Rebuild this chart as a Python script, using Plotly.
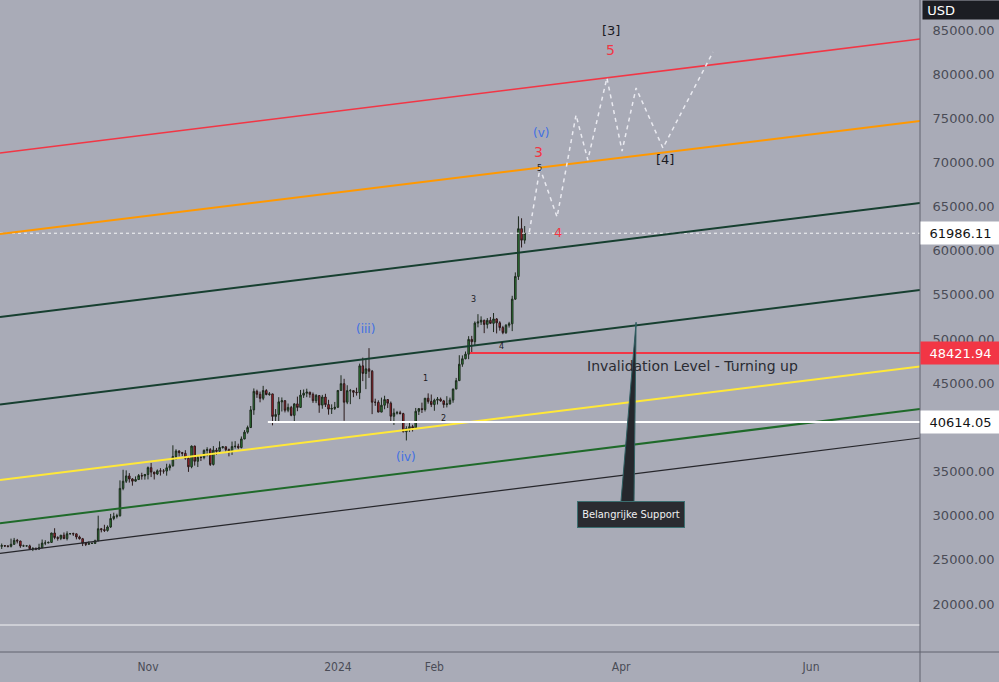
import pandas as pd
import plotly.graph_objects as go

# ---------------- data ----------------
first_date = "2023-09-14"
first_open = 26230
closes = [
    26530, 26610, 26570, 26530, 26760, 27210, 27130, 26570, 26580, 26580, 26260, 26300, 26220, 26370, 26900, 26910, 26970,
    28040, 27530, 27430, 27790, 27410, 27950, 27970, 27940, 27590, 27390, 26870, 26760, 26860, 26860, 27160, 28520, 28420,
    28330, 28720, 29680, 29920, 29990, 33090, 33900, 34500, 34160, 33910, 34090, 34540, 34500, 34670,
    35440, 34940, 34730, 35080, 35050, 35050, 35420, 35650, 36700, 37320, 37140, 37060, 36500, 35540, 37880, 36160, 36600,
    36590, 37390, 37480, 35800, 37420, 37290, 37720, 37800, 37480, 37250, 37830, 37860, 37720,
    38690, 39460, 39980, 41980, 44080, 43750, 43290, 44170, 43720, 43790, 41240, 41450, 42890, 43020, 41940, 42260, 41360,
    42660, 42260, 43650, 43870, 43990, 43740, 43020, 43610, 42520, 43440, 42580, 42070, 42140, 42280,
    44180, 44950, 42850, 44160, 44160, 43970, 43930, 46970, 46110, 46630, 46360, 42850, 42840, 41730, 42510, 43150, 42740,
    41260, 41620, 41660, 41560, 39510, 39850, 40080, 39930, 41820, 42120, 42030, 43300, 42940, 42580,
    43080, 43190, 43000, 42580, 42660, 43090, 44340, 45290, 47150, 47770, 48290, 49960, 49700, 51810, 51940, 52130, 51660,
    52120, 51780, 52280, 51840, 51300, 50730, 51570, 51730, 54520, 57090, 62500, 61200,
    61986.11,
]
highs = [
    26770, 26850, 26680, 26620, 27400, 27480, 27370, 27150, 26720, 26640, 26720, 26420, 26390, 26820, 27300, 27220, 27080,
    28060, 28580, 27670, 27820, 28100, 28230, 28020, 28080, 27990, 27740, 27480, 26940, 27100, 26970, 27290, 30000, 28610,
    28970, 28900, 30200, 30340, 30220, 34000, 35200, 35130, 34820, 34250, 34450, 34720, 34860, 34720,
    35570, 35980, 34940, 35240, 35380, 35270, 35880, 35880, 37970, 37520, 37410, 37220, 37420, 36760, 37950, 37930, 36840,
    36840, 37500, 37750, 37650, 37880, 37670, 38420, 37880, 37830, 37600, 38390, 38440, 38150,
    38970, 39690, 40200, 42420, 44410, 44270, 44050, 44700, 44330, 44000, 43810, 42070, 43420, 43390, 43090, 42700, 42430,
    42740, 43480, 44240, 44290, 44380, 44010, 43950, 43780, 43610, 43680, 43800, 43120, 42610, 42880,
    44190, 45900, 45500, 44770, 44350, 44230, 44490, 47220, 47900, 47700, 48970, 46500, 43250, 43070, 43370, 43580, 43200,
    42930, 42140, 41870, 41880, 41650, 40130, 40540, 40290, 42200, 42190, 42800, 43320, 43850, 43720,
    43250, 43440, 43380, 43110, 43530, 43370, 44390, 45600, 48170, 48150, 48590, 50330, 50360, 52000, 52820, 52570, 52190,
    52380, 52490, 52950, 52380, 52020, 51500, 51690, 51950, 54900, 57550, 63900, 63680,
    62800,
]
lows = [
    26150, 26230, 26450, 26400, 26400, 26680, 26860, 26360, 26490, 26520, 26140, 25990, 26090, 26120, 26340, 26660, 26880,
    26950, 27330, 27170, 27230, 27340, 27200, 27860, 27710, 27320, 27300, 26560, 26560, 26690, 26810, 26820, 27120, 28110,
    28150, 28190, 28620, 29490, 29690, 29900, 32880, 33700, 33750, 33400, 33860, 34050, 34080, 34080,
    34110, 34370, 34100, 34600, 34540, 34760, 34530, 35110, 35540, 36350, 36710, 36750, 36340, 34960, 35370, 35670, 35510,
    36190, 36380, 36720, 35630, 35680, 36890, 37260, 37590, 37160, 36720, 36880, 37600, 37520,
    37620, 38650, 39280, 39970, 41420, 43340, 42840, 43080, 43630, 43580, 40230, 40650, 40680, 41800, 41690, 41710, 41260,
    40530, 41830, 42210, 43340, 43420, 43360, 42770, 42750, 41650, 42110, 42310, 41440, 41520, 41970,
    42190, 44180, 40750, 42630, 42630, 43420, 43600, 43200, 45240, 44330, 45600, 41500, 42440, 41720, 41720, 42050, 42190,
    40680, 40280, 41450, 41480, 39430, 38520, 39490, 39530, 39820, 41400, 41630, 41800, 42690, 42300,
    41880, 42590, 42900, 42220, 42260, 42580, 42790, 44330, 45250, 46860, 47710, 47720, 48380, 49280, 51330, 51600, 50670,
    51200, 51700, 50790, 50640, 50950, 50550, 50580, 51300, 50900, 54450, 56700, 60370,
    60800,
]

# drawn channel lines: price at left edge / right edge of the view
channel_names = ["red", "orange", "dkgreen1", "dkgreen2", "yellow", "green", "black"]
channel_start = [71072, 61899, 52500, 42591, 34042, 29139, 25741]
channel_end = [83981, 74695, 65409, 55558, 46895, 42082, 38798]

# horizontal levels
last_price = 61986.11
invalidation_level = 48421.94
invalidation_start = "2024-02-12 10:00"
support_level = 40614.05
support_start = "2023-12-09 12:00"
low_line_level = 17620

# projected wave path (white dashed)
projection_dates = ["2024-03-02 12:00", "2024-03-05 22:00", "2024-03-11 10:00", "2024-03-17 12:00",
                    "2024-03-21 07:00", "2024-03-27 10:00", "2024-04-01 07:00", "2024-04-05 19:00",
                    "2024-04-14 10:00", "2024-04-30 12:00"]
projection_prices = [62125, 69373, 63824, 75375, 70279, 79564, 71298, 78432, 71638, 82509]

# 40000 is hidden behind the 40614.05 price tag in the reference
y_ticks = [20000, 25000, 30000, 35000, 45000, 50000, 55000, 60000, 65000, 70000, 75000, 80000, 85000]
x_tick_dates = ["2023-11-01", "2024-01-01", "2024-02-01", "2024-04-01", "2024-06-01"]
x_tick_text = ["Nov", "2024", "Feb", "Apr", "Jun"]

x_view = ["2023-09-14 11:00", "2024-07-06 00:00"]
y_view = [14563, 88397]

# ---------------- figure ----------------
dates = pd.date_range(first_date, periods=len(closes), freq="D")
opens = [first_open] + closes[:-1]

BG = "#a9abb7"
RED = "#f23645"
BLUE = "#3f6fe3"

channel_colors = {"red": RED, "orange": "#ff9800", "dkgreen1": "#173f30", "dkgreen2": "#173f30",
                  "yellow": "#ffe838", "green": "#1f6a2a", "black": "#26262b"}
channel_widths = {"red": 1.6, "orange": 2, "dkgreen1": 2, "dkgreen2": 2, "yellow": 2, "green": 2, "black": 1.2}

fig = go.Figure()

fig.add_trace(go.Scatter(x=x_view, y=[low_line_level, low_line_level], mode="lines",
                         line=dict(color="rgba(255,255,255,0.85)", width=1), hoverinfo="skip"))
fig.add_trace(go.Scatter(x=x_view, y=[last_price, last_price], mode="lines",
                         line=dict(color="rgba(255,255,255,0.9)", width=1, dash="dot"), hoverinfo="skip"))

for name, p0, p1 in zip(channel_names, channel_start, channel_end):
    fig.add_trace(go.Scatter(x=x_view, y=[p0, p1], mode="lines",
                             line=dict(color=channel_colors[name], width=channel_widths[name]),
                             hoverinfo="skip"))

fig.add_trace(go.Scatter(x=[invalidation_start, x_view[1]], y=[invalidation_level, invalidation_level],
                         mode="lines", line=dict(color=RED, width=2), hoverinfo="skip"))
fig.add_trace(go.Scatter(x=[support_start, x_view[1]], y=[support_level, support_level],
                         mode="lines", line=dict(color="#ffffff", width=2), hoverinfo="skip"))

fig.add_trace(go.Scatter(x=projection_dates, y=projection_prices, mode="lines",
                         line=dict(color="rgba(245,245,250,0.85)", width=1.5, dash="4px,4px"),
                         hoverinfo="skip"))

# callout pointer
fig.add_trace(go.Scatter(x=["2024-03-31 22:00", "2024-04-05 19:00", "2024-04-05 03:00"],
                         y=[31551, 51900, 31551], mode="lines", fill="toself",
                         fillcolor="#25272c", line=dict(color="#2f5f62", width=1), hoverinfo="skip"))

fig.add_trace(go.Candlestick(
    x=dates, open=opens, high=highs, low=lows, close=closes,
    increasing=dict(line=dict(color="#1d2a1d", width=1), fillcolor="#2f8a3a"),
    decreasing=dict(line=dict(color="#2a1a1a", width=1), fillcolor="#c8202c"),
    whiskerwidth=0, hoverinfo="skip"))

labels = [
    ("[3]", "2024-03-28 17:00", 85000, "#1a1a1f", 13),
    ("5", "2024-03-28 12:00", 82735, RED, 14),
    ("(v)", "2024-03-06 05:00", 73336, BLUE, 12),
    ("3", "2024-03-05 07:00", 71185, RED, 14),
    ("5", "2024-03-05 16:00", 69260, "#1a1a1f", 8),
    ("4", "2024-03-11 17:00", 62013, RED, 13),
    ("[4]", "2024-04-15 00:00", 70279, "#1a1a1f", 13),
    ("(iii)", "2024-01-10 00:00", 51142, BLUE, 12),
    ("(iv)", "2024-01-22 22:00", 36647, BLUE, 12),
    ("1", "2024-01-29 00:00", 45479, "#1a1a1f", 8),
    ("2", "2024-02-03 19:00", 40950, "#1a1a1f", 8),
    ("3", "2024-02-13 17:00", 54425, "#1a1a1f", 8),
    ("4", "2024-02-22 17:00", 49103, "#1a1a1f", 8),
]
annotations = []
for t, d, p, c, s in labels:
    annotations.append(dict(x=d, y=p, xref="x", yref="y", text=t, showarrow=False,
                            font=dict(color=c, size=s, family="DejaVu Sans")))

annotations.append(dict(x="2024-04-24 00:00", y=46951, xref="x", yref="y",
                        text="Invalidation Level - Turning up", showarrow=False,
                        font=dict(color="#2a2b33", size=14, family="DejaVu Sans")))

annotations.append(dict(x="2024-04-04 00:00", y=30078, xref="x", yref="y",
                        text="Belangrijke Support", showarrow=False,
                        bgcolor="#2a2b30", bordercolor="#3b6e70", borderwidth=1, borderpad=0,
                        width=106, height=25,
                        font=dict(color="#f0f0f0", size=11,
                                  family="Liberation Sans Narrow, DejaVu Sans Condensed, sans-serif")))

for val, bg, fg in [(last_price, "#ffffff", "#131313"), (invalidation_level, RED, "#ffffff"),
                    (support_level, "#ffffff", "#131313")]:
    annotations.append(dict(x=1, y=val, xref="paper", yref="y", xanchor="left", yanchor="middle",
                            text=f"{val:.2f}", showarrow=False, bgcolor=bg, width=79, height=22,
                            borderpad=0, align="center",
                            font=dict(color=fg, size=13, family="DejaVu Sans")))

annotations.append(dict(x=1, y=1, xref="paper", yref="paper", xanchor="left", yanchor="top",
                        xshift=2, text="\u00a0USD", showarrow=False, bgcolor="#1c1d23", width=77, height=18,
                        borderpad=0, align="left",
                        font=dict(color="#ffffff", size=13, family="DejaVu Sans")))

shapes = [
    dict(type="line", xref="paper", yref="paper", x0=1, x1=1, y0=-30 / 652, y1=1,
         line=dict(color="#60636e", width=1)),
    dict(type="line", xref="paper", yref="paper", x0=0, x1=999 / 920, y0=0, y1=0,
         line=dict(color="#60636e", width=1)),
]

fig.update_layout(
    width=999, height=682,
    margin=dict(l=0, r=79, t=0, b=30),
    paper_bgcolor=BG, plot_bgcolor=BG,
    showlegend=False,
    annotations=annotations,
    shapes=shapes,
    font=dict(family="DejaVu Sans", color="#4a4c56"),
    xaxis=dict(type="date", range=x_view, showgrid=False, zeroline=False, showline=False,
               rangeslider=dict(visible=False), tickvals=x_tick_dates, ticktext=x_tick_text,
               ticks="outside", ticklen=4, tickcolor="rgba(0,0,0,0)",
               tickfont=dict(size=12, color="#4a4c56", family="DejaVu Sans Condensed, DejaVu Sans")),
    yaxis=dict(side="right", range=y_view, showgrid=False, zeroline=False, showline=False,
               tickvals=y_ticks, tickformat=".2f", ticks="outside", ticklen=9,
               tickcolor="rgba(0,0,0,0)",
               tickfont=dict(size=13, color="#4a4c56", family="DejaVu Sans")),
)

fig.write_html("out.html", config={"displayModeBar": False},
               post_script="document.body.style.margin='0';document.body.style.overflow='hidden';"
                           "document.body.style.background='" + BG + "';")
